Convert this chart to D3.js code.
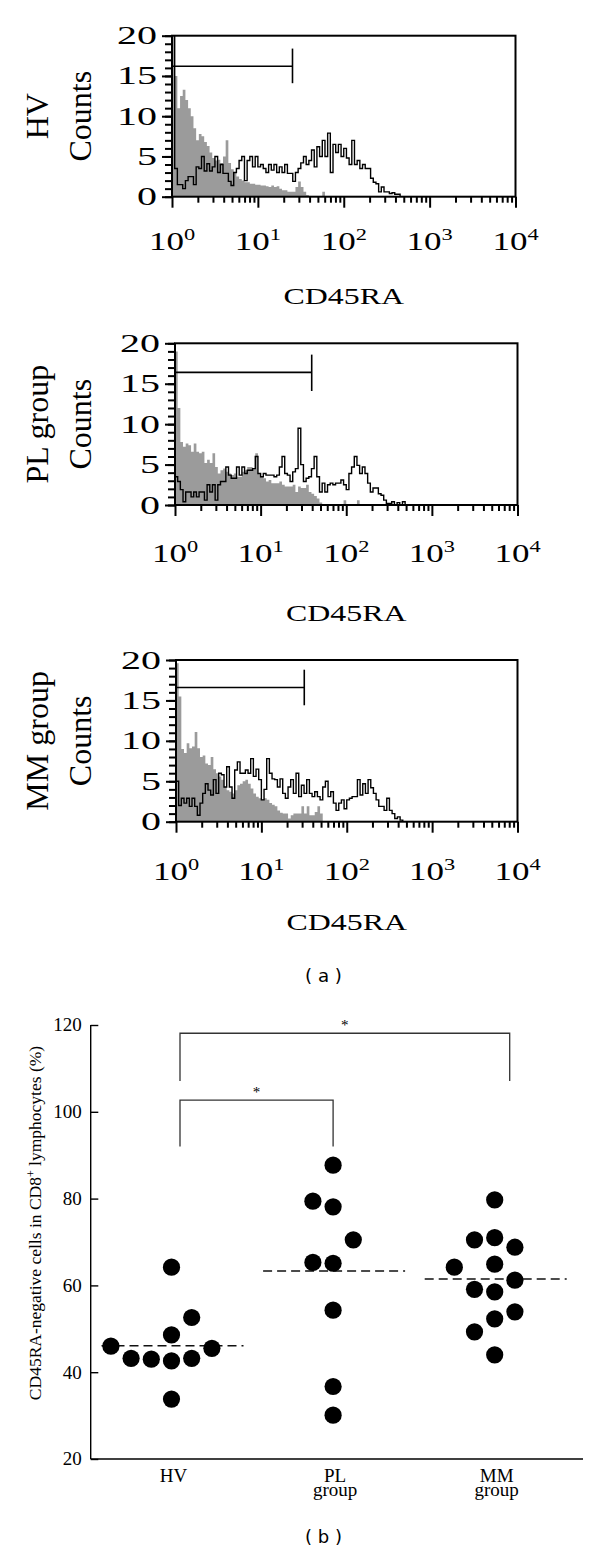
<!DOCTYPE html>
<html><head><meta charset="utf-8">
<script src="https://cdn.jsdelivr.net/npm/d3@7"></script>
<style>
body{margin:0;background:#fff}
svg{display:block}
text{font-family:"Liberation Serif","Times New Roman",serif;fill:#000}
</style>
</head><body>
<svg id="chart" width="600" height="1554"></svg>
<script>
// ---------------- DATA ----------------
// (a) flow cytometry histograms: counts per channel, 32 channels per decade starting at 10^0
const binsPerDecade = 32;
const decadeTicks = [1, 10, 100, 1000, 10000];
const decadeExponents = ["0", "1", "2", "3", "4"];
const countTicks = [0, 5, 10, 15, 20];
const histGroups = ["HV", "PL group", "MM group"];
const histAxisTitle = "CD45RA";
const histCountLabel = "Counts";

const hvControl = [21, 15, 11, 12.5, 13.3, 12, 11, 10, 8.5, 7, 7.8, 7.5, 6.8, 6.3, 5.5, 4.8, 4.5, 4.6, 4.2, 5, 7, 4.2, 3.4, 3, 2.5, 2.2, 2, 1.8, 1.8, 1.6, 1.6, 1.5, 1.5, 1.4, 1.4, 1.3, 1.2, 1.4, 1.2, 1.3, 1, 0.8, 0.8, 0.6, 0.6, 0.6, 1.2, 1.9, 1.2, 0.6, 0.2, 0, 0, 0, 0, 0, 0.6];
const hvSample = [22, 3.5, 1.5, 1.5, 1, 2, 2.5, 2.5, 1.5, 3.7, 3.5, 5, 3.2, 4.1, 3.2, 3.7, 5, 3, 4, 2.9, 2.9, 1.9, 1.4, 3, 3.5, 4.5, 5, 2, 4.5, 5, 3.7, 5, 3.7, 4, 3.5, 3, 4, 3.3, 4, 3, 3.7, 3, 4, 2.9, 2.9, 1.9, 3, 3.5, 4.2, 5, 4, 4.5, 5.8, 3.7, 6.2, 5, 7, 5, 7.9, 3, 6.5, 5.5, 6.5, 5, 6, 4.8, 4, 7, 4, 4.5, 3.5, 4, 3.5, 3.5, 2.3, 1.8, 1.6, 0.6, 1.2, 0.6, 0.6, 0.4, 0.5, 0.3, 0.3];

const plControl = [19, 12, 7.8, 7.2, 7.6, 7.4, 6.6, 7.6, 6.6, 6.4, 6.6, 5.2, 5.6, 5.2, 6.4, 4.7, 3.9, 4.3, 4.5, 4.1, 3.9, 3.7, 3.9, 3.5, 3.5, 4.1, 4.3, 4.7, 4.7, 4.5, 6.4, 3.9, 3.5, 3.3, 2.9, 3.1, 2.7, 2.7, 2.7, 2.9, 2.5, 2.3, 2.3, 2.3, 2.5, 1.6, 2.3, 2.1, 2.1, 2.5, 1.6, 1.4, 1.1, 0.8, 0.3, 0, 0, 0, 0, 0, 0, 0, 0, 0.6, 0, 0, 0, 0, 0.6];
const plSample = [3.5, 2.9, 1.9, 0.4, 1.6, 1.6, 1, 1.6, 1, 1.6, 1.6, 0.6, 2.5, 1.6, 2.5, 0.6, 2.5, 2.9, 2.9, 4.7, 3.7, 3.3, 3.3, 4.7, 3.7, 4.7, 3.9, 4.3, 4.3, 4.5, 6, 3.9, 3.5, 3.9, 3.7, 3.7, 3.7, 3.5, 3.7, 4.7, 6, 3.9, 3.7, 2.9, 4.1, 4.5, 9.5, 5, 2.9, 3.3, 3.5, 4.5, 6, 3.5, 1.6, 2.7, 1.6, 2.5, 2.7, 2.5, 2.7, 2.7, 3.1, 2.5, 1.9, 3.9, 4.7, 6, 4.9, 3.9, 4.7, 3.9, 2.7, 1.6, 2.1, 2.1, 1.4, 1.2, 0.6, 0.2, 0.2, 0.4, 0, 0.3, 0, 0.4];

const mmControl = [19.6, 15.5, 9, 8.5, 9.7, 9.1, 9.3, 11.1, 9.1, 8, 8.2, 7.2, 7, 8, 6.5, 6, 5.6, 5.2, 4.3, 3.9, 3.7, 3.5, 3.9, 4.5, 4.7, 5, 5.2, 4.7, 4.1, 3.5, 3.1, 2.9, 2.7, 2.9, 2.7, 2.3, 2.1, 1.9, 1.4, 1.1, 1, 1, 0.4, 0.8, 1, 1, 1, 1.9, 1, 1.9, 0.8, 0.8, 1.2, 1.9, 1];
const mmSample = [5, 2, 2.9, 2.3, 2.9, 1.9, 2.9, 1.9, 0.8, 2.3, 3.5, 4.7, 3.9, 3.3, 5.2, 3.5, 6, 5.8, 4.3, 6.8, 4.3, 2.9, 6.4, 7.4, 6, 6, 6.4, 6, 7.8, 5.6, 6.5, 5.2, 2.7, 4, 7.8, 6, 5.3, 5.2, 4.3, 5.3, 3.5, 2.9, 4.3, 5.2, 3.5, 6, 3.1, 4.5, 3.5, 5.2, 3.5, 3.1, 3.7, 3.1, 2.7, 4.3, 5, 3.1, 3.7, 2.3, 1.4, 2.3, 2.7, 1.6, 2.7, 2.9, 3.1, 3.1, 5.2, 3.3, 4.7, 3.5, 5.2, 4.2, 3.5, 2.7, 1.9, 1.9, 1.4, 2.9, 1.4, 1, 0.4, 0.6, 0.2];

// gate markers: level (counts), bar from/to (counts), right end (CD45RA value)
const gateLevels = [16.2, 16.4, 16.6];
const gateLow = [14.1, 14.1, 14.4];
const gateHigh = [18.4, 18.6, 18.8];
const gateEnds = [25.3, 39.5, 31.8];

// (b) dot plot
const categories = ["HV", "PL", "MM"];
const categoryLabels = [["HV"], ["PL", "group"], ["MM", "group"]];
const hvValues = [46.0, 43.2, 43.0, 42.6, 43.2, 45.5, 48.6, 52.6, 64.2, 33.8];
const hvSlots  = [-3, -2, -1, 0, 1, 2, 0, 1, 0, 0];
const plValues = [87.7, 79.4, 78.1, 70.5, 65.3, 65.1, 54.3, 36.7, 30.1];
const plSlots  = [0, -1, 0, 1, -1, 0, 0, 0, 0];
const mmValues = [79.7, 70.5, 71.0, 68.8, 64.2, 64.9, 61.2, 59.1, 58.5, 53.9, 52.3, 49.3, 44.0];
const mmSlots  = [0, -1, 0, 1, -2, 0, 1, -1, 0, 1, 0, -1, 0];
const medianValues = [46.1, 63.3, 61.5];
const dotTicks = [20, 40, 60, 80, 100, 120];
const bracketFrom = ["HV", "HV"];
const bracketTo = ["PL", "MM"];
const bracketTop = [102.7, 118.1];
const bracketBottom = [92.0, 107.1];
const bracketLabel = ["*", "*"];
const dotAxisTitle = "CD45RA-negative cells in CD8";
const dotAxisTitleSup = "+";
const dotAxisTitleEnd = " lymphocytes (%)";
const panelLabels = ["( a )", "( b )"];

// ---------------- DRAW ----------------
const svg = d3.select("#chart");
svg.append("rect").attr("width", 600).attr("height", 1554).attr("fill", "#fff");

function sText(g, x, y, str, size, sx, anchor) {
  return g.append("text")
    .attr("transform", `translate(${x},${y}) scale(${sx},1)`)
    .attr("text-anchor", anchor)
    .style("font-size", size + "px")
    .text(str);
}

const histLayouts = [
  {x0: 172, x1: 515.5, y0: 196.7, y1: 35.7, tickY: 250, titleY: 304},
  {x0: 175, x1: 517.5, y0: 505, y1: 343.3, tickY: 562, titleY: 621},
  {x0: 176, x1: 517.5, y0: 821.7, y1: 660, tickY: 880, titleY: 930}
];
const histData = [[hvControl, hvSample], [plControl, plSample], [mmControl, mmSample]];

histLayouts.forEach((L, h) => {
  const g = svg.append("g");
  const x = d3.scaleLog().domain([decadeTicks[0], decadeTicks[4]]).range([L.x0, L.x1]);
  const y = d3.scaleLinear().domain([0, 20]).range([L.y0, L.y1]);
  const edge = i => Math.pow(10, i / binsPerDecade);
  const pts = arr => arr.map((c, i) => ({e: edge(i), c})).concat([{e: edge(arr.length), c: 0}]);

  const clipId = "clip" + h;
  svg.append("clipPath").attr("id", clipId).append("rect")
    .attr("x", L.x0).attr("y", L.y1).attr("width", L.x1 - L.x0).attr("height", L.y0 - L.y1);

  const [ctrl, samp] = histData[h];
  g.append("path").attr("clip-path", `url(#${clipId})`)
    .attr("d", d3.area().x(d => x(d.e)).y0(y(0)).y1(d => y(d.c)).curve(d3.curveStepAfter)(pts(ctrl)))
    .attr("fill", "#9b9b9b");
  g.append("path").attr("clip-path", `url(#${clipId})`)
    .attr("d", d3.line().x(d => x(d.e)).y(d => y(d.c)).curve(d3.curveStepAfter)(pts(samp)))
    .attr("fill", "none").attr("stroke", "#000").attr("stroke-width", 1.4);

  // gate marker
  g.append("line").attr("x1", x(1)).attr("x2", x(gateEnds[h]))
    .attr("y1", y(gateLevels[h])).attr("y2", y(gateLevels[h]))
    .attr("stroke", "#000").attr("stroke-width", 1.6);
  g.append("line").attr("x1", x(gateEnds[h])).attr("x2", x(gateEnds[h]))
    .attr("y1", y(gateLow[h])).attr("y2", y(gateHigh[h]))
    .attr("stroke", "#000").attr("stroke-width", 1.6);

  // frame
  g.append("rect").attr("x", L.x0).attr("y", L.y1).attr("width", L.x1 - L.x0).attr("height", L.y0 - L.y1)
    .attr("fill", "none").attr("stroke", "#000").attr("stroke-width", 2);

  // y ticks
  const yMinor = d3.axisLeft(y).tickValues(d3.range(0, 21)).tickSize(7).tickFormat("");
  const yMajor = d3.axisLeft(y).tickValues(countTicks).tickSize(10).tickFormat("");
  [yMinor, yMajor].forEach(ax => {
    const a = g.append("g").attr("transform", `translate(${L.x0},0)`).call(ax);
    a.select(".domain").remove();
    a.selectAll("line").attr("stroke", "#000").attr("stroke-width", 2);
  });
  // x ticks
  const minorVals = [];
  decadeTicks.slice(0, 4).forEach(d => { for (let k = 2; k <= 9; k++) minorVals.push(d * k); });
  const xMinor = d3.axisBottom(x).tickValues(minorVals).tickSize(6).tickFormat("");
  const xMajor = d3.axisBottom(x).tickValues(decadeTicks).tickSize(11).tickFormat("");
  [xMinor, xMajor].forEach(ax => {
    const a = g.append("g").attr("transform", `translate(0,${L.y0})`).call(ax);
    a.select(".domain").remove();
    a.selectAll("line").attr("stroke", "#000").attr("stroke-width", 2);
  });

  // y tick labels
  countTicks.forEach(v => {
    sText(g, L.x0 - 15, y(v), String(v), 25, 1.6, "end").attr("dy", "0.34em");
  });
  // x tick labels 10^n
  decadeTicks.forEach((v, i) => {
    const t = g.append("text")
      .attr("transform", `translate(${x(v)},${L.tickY}) scale(1.4,1)`)
      .attr("text-anchor", "middle").style("font-size", "25px");
    t.append("tspan").text("10");
    t.append("tspan").attr("dy", -10).style("font-size", "16px").text(decadeExponents[i]);
  });
  // axis title
  sText(g, (L.x0 + L.x1) / 2, L.titleY, histAxisTitle, 24, 1.33, "middle");
  // rotated labels
  const cy = (L.y0 + L.y1) / 2;
  g.append("text").attr("transform", `translate(91,${cy}) rotate(-90)`)
    .attr("text-anchor", "middle").style("font-size", "32px").text(histCountLabel);
  g.append("text").attr("transform", `translate(48,${cy}) rotate(-90)`)
    .attr("text-anchor", "middle").style("font-size", "32px").text(histGroups[h]);
});

// panel label (a)
svg.append("text").attr("x", 323.5).attr("y", 982).attr("text-anchor", "middle")
  .style("font-family", "'DejaVu Sans', sans-serif").style("font-size", "18px")
  .attr("textLength", 37).attr("lengthAdjust", "spacingAndGlyphs").text(panelLabels[0]);

// ---------------- (b) ----------------
const gb = svg.append("g");
const xb = d3.scalePoint().domain(categories).range([90.7, 575.5]).padding(0.5);
const yb = d3.scaleLinear().domain([20, 120]).range([1459, 1025]);
const slot = d3.scaleLinear().domain([0, 1]).range([0, 20.2]);

// axes
const ya = gb.append("g").attr("transform", "translate(90.7,0)")
  .call(d3.axisRight(yb).tickValues(dotTicks).tickSize(7.6).tickFormat(""));
ya.select(".domain").attr("d", `M0,${yb(120)}V${yb(20)}`).attr("stroke", "#000").attr("stroke-width", 1.4);
ya.selectAll("line").attr("stroke", "#000").attr("stroke-width", 1.4);
gb.append("line").attr("x1", 90.7).attr("x2", 583).attr("y1", yb(20)).attr("y2", yb(20))
  .attr("stroke", "#000").attr("stroke-width", 1.4);
dotTicks.forEach(v => {
  gb.append("text").attr("x", 81.7).attr("y", yb(v)).attr("dy", "0.34em")
    .attr("text-anchor", "end").style("font-size", "19px").text(v);
});
// category labels (one text element per category, one tspan per line)
categoryLabels.forEach((lines, i) => {
  const cx = xb(categories[i]) + 2;
  const t = gb.append("text").attr("x", cx).attr("y", 1482.3)
    .attr("text-anchor", "middle").style("font-size", "19px");
  lines.forEach((s, j) => {
    t.append("tspan").attr("x", cx).attr("dy", j === 0 ? 0 : 13.2).text(s);
  });
});
// y title
const yt = gb.append("text").attr("transform", "translate(41,1223) rotate(-90)")
  .attr("text-anchor", "middle").style("font-size", "17.5px");
yt.append("tspan").text(dotAxisTitle);
yt.append("tspan").attr("dy", -6).style("font-size", "12px").text(dotAxisTitleSup);
yt.append("tspan").attr("dy", 6).text(dotAxisTitleEnd);

// median dashed lines
categories.forEach((c, i) => {
  gb.append("line").attr("x1", xb(c) - 70).attr("x2", xb(c) + 72)
    .attr("y1", yb(medianValues[i])).attr("y2", yb(medianValues[i]))
    .attr("stroke", "#111").attr("stroke-width", 1.5).attr("stroke-dasharray", "9,5");
});
// dots
const groupsB = [[hvValues, hvSlots], [plValues, plSlots], [mmValues, mmSlots]];
groupsB.forEach(([vals, slots], i) => {
  gb.selectAll(null).data(vals.map((v, k) => ({v, s: slots[k]}))).enter()
    .append("circle")
    .attr("cx", d => xb(categories[i]) + slot(d.s))
    .attr("cy", d => yb(d.v))
    .attr("r", 8.6).attr("fill", "#000");
});
// significance brackets
const legNudge = {HV: 8.5, PL: 0, MM: 15};
bracketFrom.forEach((f, i) => {
  const t = bracketTo[i];
  const xa = xb(f) + legNudge[f], xc = xb(t) + legNudge[t];
  gb.append("path")
    .attr("d", `M${xa},${yb(bracketBottom[i])}V${yb(bracketTop[i])}H${xc}V${yb(bracketBottom[i])}`)
    .attr("fill", "none").attr("stroke", "#333").attr("stroke-width", 1.3);
  gb.append("text").attr("x", (xa + xc) / 2).attr("y", yb(bracketTop[i]) - 3)
    .attr("text-anchor", "middle").style("font-size", "15px").style("fill", "#000").text(bracketLabel[i]);
});

// panel label (b)
svg.append("text").attr("x", 323.5).attr("y", 1543).attr("text-anchor", "middle")
  .style("font-family", "'DejaVu Sans', sans-serif").style("font-size", "18px")
  .attr("textLength", 37).attr("lengthAdjust", "spacingAndGlyphs").text(panelLabels[1]);
</script>
</body></html>
